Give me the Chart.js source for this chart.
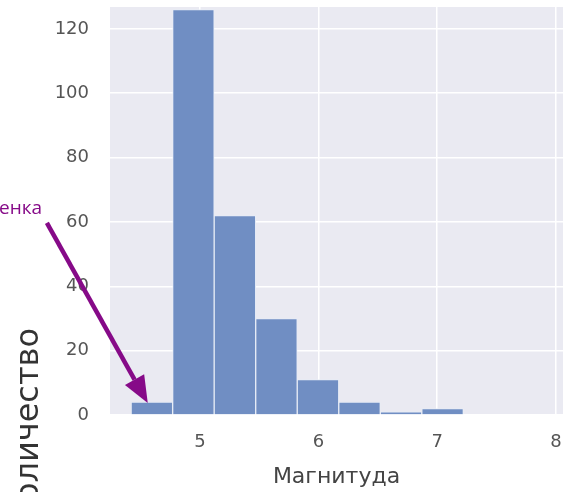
<!DOCTYPE html>
<html>
<head>
<meta charset="utf-8">
<script src="https://cdn.jsdelivr.net/npm/chart.js@4.4.0/dist/chart.umd.min.js"></script>
<style>
  html, body { margin: 0; padding: 0; background: #fff; overflow: hidden; }
  #wrap { width: 563px; height: 492px; }
</style>
</head>
<body>
<div id="wrap"><canvas id="histChart"></canvas></div>
<script>
// histogram bins (left edges, width) and counts
const binLeftEdges = [4.42, 4.77, 5.12, 5.47, 5.82, 6.17, 6.52, 6.87];
const binWidth = 0.35;
const counts = [4, 126, 62, 30, 11, 4, 1, 2];

const xTicks = [5, 6, 7, 8];
const yTicks = [0, 20, 40, 60, 80, 100, 120];

const xTitle = 'Магнитуда';
const yTitle = 'Количество';
const noteText = 'Оценка';

// annotation arrow in data units
const arrowFrom = { x: 3.71, y: 59.7 };
const arrowTo = { x: 4.56, y: 3.7 };
const noteAt = { x: 3.67, y: 64.3 };

const points = binLeftEdges.map((e, i) => ({ x: e + binWidth / 2, y: counts[i] }));

const ctx = document.getElementById('histChart').getContext('2d');

// фон области графика как в seaborn
const plotBg = {
    id: 'plotBg',
    beforeDraw(chart) {
        const { ctx, chartArea: a } = chart;
        ctx.save();
        ctx.fillStyle = '#eaeaf2';
        ctx.fillRect(a.left, a.top, a.right - a.left, a.bottom - a.top);
        ctx.restore();
    }
};

// стрелка, подпись и заголовок оси Y
const extras = {
    id: 'extras',
    afterDraw(chart) {
        const { ctx, scales: { x, y } } = chart;
        const x0 = x.getPixelForValue(arrowFrom.x), y0 = y.getPixelForValue(arrowFrom.y);
        const x1 = x.getPixelForValue(arrowTo.x), y1 = y.getPixelForValue(arrowTo.y);
        const ang = Math.atan2(y1 - y0, x1 - x0);
        const headLen = 27, headHalf = 11;
        const bx = x1 - headLen * Math.cos(ang), by = y1 - headLen * Math.sin(ang);

        ctx.save();
        ctx.strokeStyle = '#860a88';
        ctx.fillStyle = '#860a88';
        ctx.lineWidth = 4.5;
        ctx.beginPath();
        ctx.moveTo(x0, y0);
        ctx.lineTo(bx, by);
        ctx.stroke();
        ctx.beginPath();
        ctx.moveTo(x1, y1);
        ctx.lineTo(bx + headHalf * Math.sin(ang), by - headHalf * Math.cos(ang));
        ctx.lineTo(bx - headHalf * Math.sin(ang), by + headHalf * Math.cos(ang));
        ctx.closePath();
        ctx.fill();

        ctx.font = '19px "Open Sans"';
        ctx.textAlign = 'right';
        ctx.textBaseline = 'middle';
        ctx.fillText(noteText, x.getPixelForValue(noteAt.x), y.getPixelForValue(noteAt.y));

        ctx.translate(38, 328);
        ctx.rotate(-Math.PI / 2);
        ctx.font = '32px "DejaVu Sans"';
        ctx.fillStyle = '#333';
        ctx.textAlign = 'right';
        ctx.textBaseline = 'alphabetic';
        ctx.fillText(yTitle, 0, 0);
        ctx.restore();
    }
};

const histChart = new Chart(ctx, {
    type: 'bar',
    data: {
        datasets: [{
            data: points,
            backgroundColor: 'rgb(112,142,195)',
            borderColor: 'rgba(232,237,247,0.95)',
            borderWidth: 1,
            barPercentage: 1,
            categoryPercentage: 1
        }]
    },
    options: {
        responsive: true,
        maintainAspectRatio: false,
        animation: false,
        layout: { padding: { top: 7, left: 0, right: 0, bottom: 0 } },
        plugins: {
            legend: { display: false },
            tooltip: { enabled: false }
        },
        scales: {
            x: {
                type: 'linear',
                offset: false,
                min: 4.242,
                max: 8.06,
                afterFit(s) { s.height = 77; s.paddingLeft = 0; s.paddingRight = 0; },
                afterBuildTicks(s) { s.ticks = xTicks.map(v => ({ value: v })); },
                border: { display: false },
                grid: { color: '#ffffff', lineWidth: 1.5, drawTicks: false, offset: false },
                ticks: {
                    padding: 17,
                    color: '#555',
                    font: { family: 'DejaVu Sans', size: 18 }
                },
                title: {
                    display: true,
                    text: xTitle,
                    color: '#444',
                    font: { family: 'DejaVu Sans', size: 22 },
                    padding: { top: 0, bottom: 2 }
                }
            },
            y: {
                min: 0,
                max: 126.8,
                afterFit(s) { s.width = 110; s.paddingTop = 0; s.paddingBottom = 0; },
                afterBuildTicks(s) { s.ticks = yTicks.map(v => ({ value: v })); },
                border: { display: false },
                grid: { color: '#ffffff', lineWidth: 1.5, drawTicks: false },
                ticks: {
                    padding: 21,
                    color: '#555',
                    font: { family: 'DejaVu Sans', size: 18 }
                }
            }
        }
    },
    plugins: [plotBg, extras]
});
</script>
</body>
</html>
